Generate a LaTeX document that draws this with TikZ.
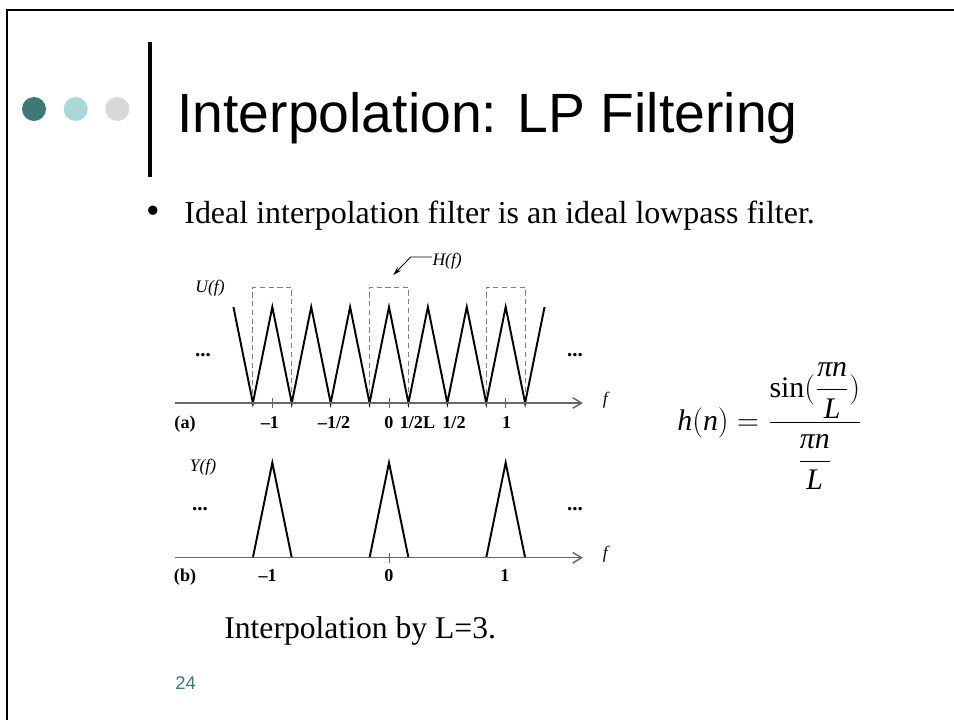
\documentclass[tikz,border=0pt]{standalone}
\usepackage{amsmath}
\usepackage{fontspec}
\setmainfont{Liberation Serif}
\newfontfamily\slidesans{Liberation Sans}
\usepackage{xcolor}
\usepackage{tikz}
\usetikzlibrary{arrows.meta, positioning}
\definecolor{slideteal}{RGB}{64, 120, 120}
\definecolor{slideaqua}{RGB}{168, 216, 216}
\definecolor{slidegray}{RGB}{216, 216, 216}
\newcommand{\vit}[1]{\textit{#1}}

\begin{document}
\begin{tikzpicture}[
    x=0.02cm, y=-0.02cm,
    dot/.style={circle, inner sep=0, minimum size=0.48cm},
    spec/.style={line width=1.1pt, line join=miter},
    hwin/.style={densely dashed, gray, line width=0.5pt},
    axis/.style={-{Straight Barb[length=5pt, width=6pt]}, gray!80!black, line width=0.8pt},
    tick/.style={font=\fontsize{10.3}{12}\selectfont\bfseries, anchor=base, inner sep=0},
    fname/.style={font=\fontsize{10}{12}\selectfont\itshape, anchor=base, inner sep=0},
    more/.style={font=\fontsize{12}{14}\selectfont\bfseries, anchor=base, inner sep=0}
]
    \useasboundingbox (0,0) rectangle (954,720);
    % Slide frame
    \draw[line width=1.2pt] (7,720) -- (7,10) -- (954,10);

    % Header
    \node[dot, fill=slideteal] (dota) at (34,109) {};
    \node[dot, fill=slideaqua, right=0.34cm of dota] (dotb) {};
    \node[dot, fill=slidegray, right=0.34cm of dotb] (dotc) {};
    \draw[line width=2.3pt] (150,42) -- (150,177);
    \node[anchor=base west, inner sep=0, font=\slidesans\fontsize{31.5}{38}\selectfont] (title) at (177,132) {Interpolation: LP Filtering};

    % Bullet
    \node[inner sep=0, font=\fontsize{22}{24}\selectfont] (bullet) at (153,215) {\textbullet};
    \node[anchor=base west, inner sep=0, font=\fontsize{18.2}{22}\selectfont] (point) at (184,223.5) {Ideal interpolation filter is an ideal lowpass filter.};

    % (a) spectrum U(f) with H(f)
    \begin{scope}[shift={(389,403)}, x=2.334cm]
        \foreach \c in {-1,0,1}
            \draw[hwin] ({\c-1/6},0) -- ({\c-1/6},-116) -- ({\c+1/6},-116) -- ({\c+1/6},0);
        \draw[spec] (-4/3,-96) \foreach \k in {-4,...,3} { -- ({(2*\k+1)/6},0) -- ({(\k+1)/3},-96) };
        \coordinate (aleft) at (-1.834,0);
        \coordinate (aright) at (1.662,0);
        \draw[axis] (aleft) -- (aright);
        \foreach \c in {-1,0,1}
            \draw[gray!80!black, line width=0.5pt] (\c,-5) -- (\c,5);
        \node[fname, anchor=base west] (fa) at (1.83,1) {f};
        \node[fname] (uf) at (-1.534,-111) {U(f)};
        \node[fname, anchor=base west] (hf) at (0.37,-138) {H(f)};
        \coordinate (hbend) at (0.186,-146);
        \coordinate (htip) at (0.037,-128);
        \draw[-{Stealth[length=5pt, width=3pt]}, line width=0.5pt] (hf.west |- hbend) -- (hbend) -- (htip);
        \node[more] (morea) at (-1.594,-47) {...};
        \node[more] (moreb) at (1.594,-47) {...};
        \node[tick] (la) at (-1.748,25) {(a)};
        \node[tick] (lam1) at (-1.02,25) {\textendash1};
        \node[tick] (lah1) at (-0.471,25) {\textendash1/2};
        \node[tick] (la0) at (0,25) {0};
        \node[tick] (lal) at (0.244,25) {1/2L};
        \node[tick] (lah2) at (0.557,25) {1/2};
        \node[tick] (la1) at (1.009,25) {1};
    \end{scope}

    % (b) spectrum Y(f)
    \begin{scope}[shift={(389,557.7)}, x=2.334cm]
        \foreach \c in {-1,0,1}
            \draw[spec] ({\c-1/6},0) -- (\c,-95) -- ({\c+1/6},0);
        \coordinate (bleft) at (-1.834,0);
        \coordinate (bright) at (1.662,0);
        \draw[axis] (bleft) -- (bright);
        \draw[gray!80!black, line width=0.5pt] (0,-5) -- (0,5);
        \node[fname, anchor=base west] (fb) at (1.83,1) {f};
        \node[fname] (yf) at (-1.594,-86) {Y(f)};
        \node[more] (morec) at (-1.62,-47) {...};
        \node[more] (mored) at (1.594,-47) {...};
        \node[tick] (lb) at (-1.748,24) {(b)};
        \node[tick] (lbm1) at (-1.04,24) {\textendash1};
        \node[tick] (lb0) at (0,24) {0};
        \node[tick] (lb1) at (0.994,24) {1};
    \end{scope}

    % Formula and caption
    \node[anchor=base west, inner sep=0, font=\fontsize{17}{20}\selectfont] (hn) at (677,430)
        {$\vit{h}(\vit{n})=\dfrac{\mathrm{sin}(\dfrac{\vit{πn}}{\vit{L}})\rule[-7pt]{0pt}{0pt}}{\rule{0pt}{24pt}\dfrac{\vit{πn}}{\vit{L}}}$};
    \node[anchor=base west, inner sep=0, font=\fontsize{18}{22}\selectfont] (caption) at (224,638) {Interpolation by L=3.};
    \node[anchor=base west, inner sep=0, text=slideteal, font=\slidesans\fontsize{10.5}{12}\selectfont] (page) at (175,689) {24};
\end{tikzpicture}
\end{document}
